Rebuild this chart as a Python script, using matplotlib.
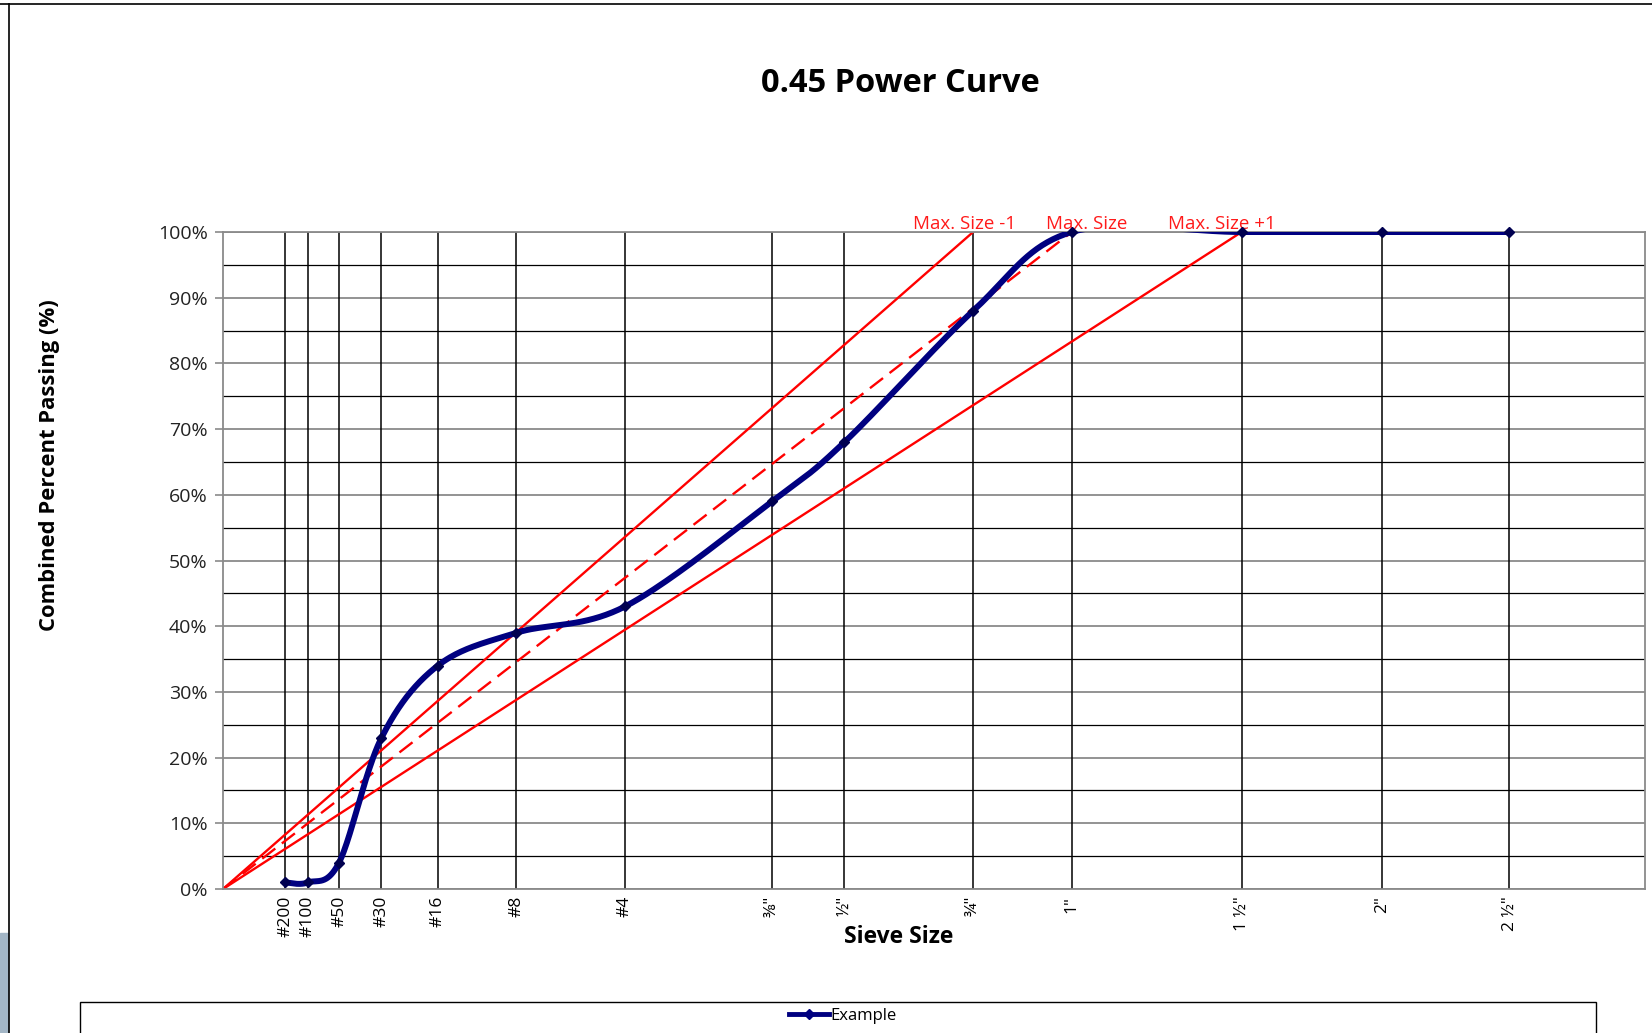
import numpy as np
import matplotlib
matplotlib.use('Agg')
import matplotlib.pyplot as plt
from matplotlib.lines import Line2D
from matplotlib.patches import Rectangle

plt.rcParams['font.family'] = ['Open Sans', 'DejaVu Sans']

# sieve sizes (mm) and labels
sieve_mm = [0.075, 0.15, 0.3, 0.6, 1.18, 2.36, 4.75, 9.5, 12.5, 19.0, 25.0, 37.5, 50.0, 63.0]
sieve_labels = ['#200', '#100', '#50', '#30', '#16', '#8', '#4',
                '\u215c"', '\u00bd"', '\u00be"', '1"', '1 \u00bd"', '2"', '2 \u00bd"']
passing = [1, 1, 4, 23, 34, 39, 43, 59, 68, 88, 100, 100, 100, 100]

# max density lines: size in mm, label, style
max_sizes = [19.0, 25.0, 37.5]
max_labels = ['Max. Size -1', 'Max. Size', 'Max. Size +1']
max_styles = ['-', (0, (7, 3.5)), '-']
label_offsets = [-6, 11, -14]

power = 0.45
xs = np.array(sieve_mm) ** power
ys = np.array(passing, dtype=float)
xmax = 7.134

fig = plt.figure(figsize=(16.52, 10.33), dpi=100)
ax = fig.add_axes([0.135, 0.1394, 0.861, 0.636])
ax.set_xlim(0, xmax)
ax.set_ylim(0, 100)

# horizontal grid
for v in range(0, 101, 5):
    if v % 10 == 0:
        ax.axhline(v, color='#8a8a8a', lw=1.3, zorder=1)
    else:
        ax.axhline(v, color='black', lw=0.9, zorder=1)
# vertical sieve lines
ax.vlines(xs, 0, 100, color='black', lw=1.1, zorder=1)

# 0.45 power lines
for ms, st in zip(max_sizes, max_styles):
    ax.plot([0, ms ** power], [0, 100], color='red', lw=1.7, linestyle=st, zorder=2)
for ms, lab, off in zip(max_sizes, max_labels, label_offsets):
    ax.annotate(lab, (ms ** power, 100), xytext=(off, -1), textcoords='offset points',
                ha='center', va='bottom', color='#ff1a1a', fontsize=13.5, annotation_clip=False)

# smoothed curve like the spreadsheet one (catmull-rom in screen proportions)
asp = (0.861 * 1652 / xmax) / (0.636 * 1033 / 100.0)
P = np.column_stack([xs * asp, ys])
Pe = np.vstack([P[0], P, P[-1]])
t = np.linspace(0, 1, 40)[:, None]
seg = []
for i in range(len(P) - 1):
    p0, p1, p2, p3 = Pe[i], Pe[i + 1], Pe[i + 2], Pe[i + 3]
    c1 = p1 + (p2 - p0) / 6.0
    c2 = p2 - (p3 - p1) / 6.0
    b = ((1 - t) ** 3) * p1 + 3 * ((1 - t) ** 2) * t * c1 + 3 * (1 - t) * t ** 2 * c2 + t ** 3 * p2
    seg.append(b)
curve = np.vstack(seg)
ax.plot(curve[:, 0] / asp, curve[:, 1], color='#000080', lw=4.3, zorder=4,
        solid_capstyle='round')
ax.plot(xs, ys, linestyle='none', marker='D', markersize=5.5, color='#000050',
        zorder=5, clip_on=False)

ax.set_xticks(xs)
ax.set_xticklabels(sieve_labels, rotation=90, fontsize=12.5)
ax.tick_params(axis='x', length=0, pad=5)
ax.set_yticks(range(0, 101, 10))
ax.set_yticklabels(['%d%%' % v for v in range(0, 101, 10)], fontsize=14, color='#222222')
ax.tick_params(axis='y', length=6, color='#8a8a8a', width=1.2, pad=5)
for s in ax.spines.values():
    s.set_color('#8a8a8a')
    s.set_linewidth(1.3)

fig.text(0.545, 0.919, '0.45 Power Curve', ha='center', va='center',
         fontsize=23.5, fontweight='bold')
fig.text(0.030, 0.550, 'Combined Percent Passing (%)', rotation=90, ha='center',
         va='center', fontsize=15.8, fontweight='bold')
fig.text(0.544, 0.093, 'Sieve Size', ha='center', va='center', fontsize=16.5,
         fontweight='bold')

# chart frame bits
fig.add_artist(Line2D([0, 1], [0.9965, 0.9965], color='black', lw=1.2, transform=fig.transFigure))
fig.add_artist(Line2D([0.0055, 0.0055], [0, 0.9965], color='black', lw=1.2, transform=fig.transFigure))
fig.add_artist(Rectangle((0, 0), 0.005, 0.097, color='#a3b6c6', transform=fig.transFigure))
fig.add_artist(Rectangle((0.0484, -0.05), 0.918, 0.08, facecolor='white', edgecolor='black',
                         lw=1.0, transform=fig.transFigure))

handle = Line2D([], [], color='#000080', lw=3.5, marker='D', markersize=5)
fig.legend([handle], ['Example'], loc='center', bbox_to_anchor=(0.510, 0.0165),
           frameon=False, fontsize=12, handlelength=2.4, handletextpad=0.1)

fig.savefig('out.png', dpi=100)
